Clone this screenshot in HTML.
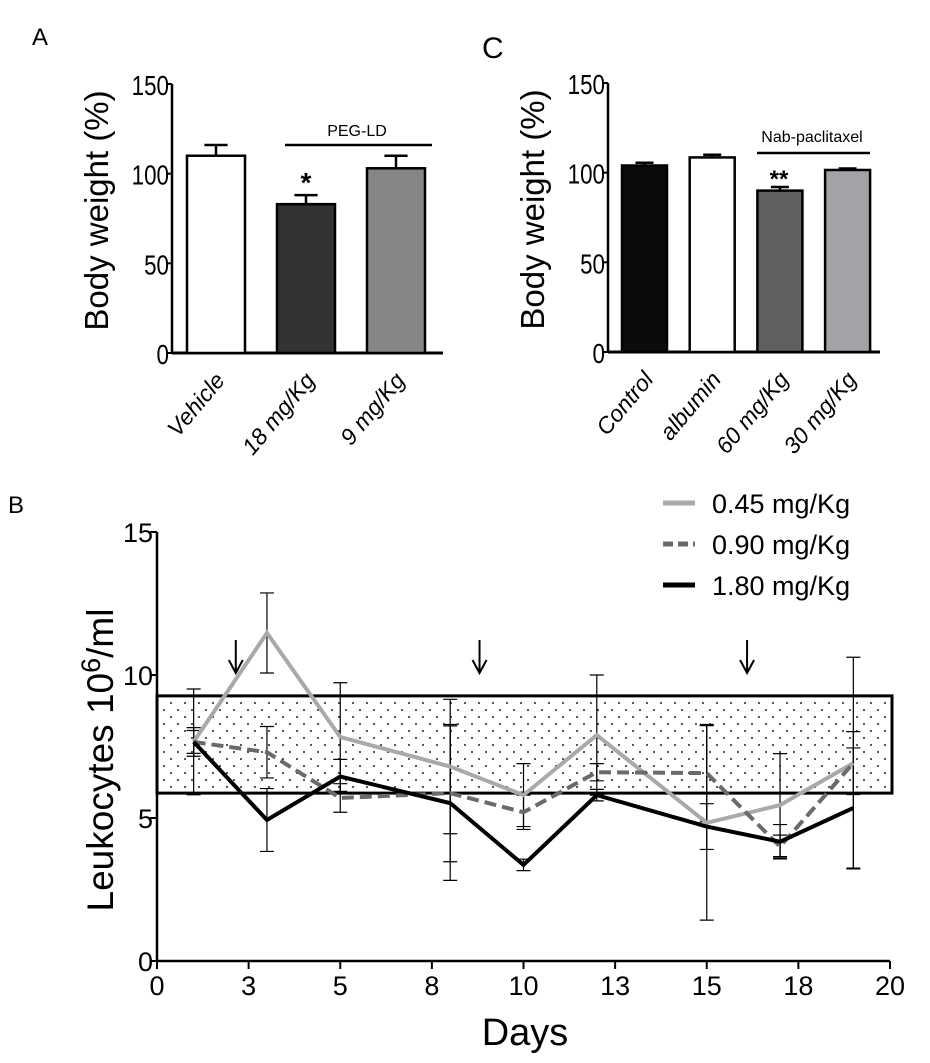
<!DOCTYPE html>
<html><head><meta charset="utf-8"><style>
body{margin:0;background:#fff}
svg{display:block;font-family:"Liberation Sans",sans-serif}
</style></head><body>
<svg id="fig" width="930" height="1063" viewBox="0 0 930 1063">
<text x="32" y="45" font-size="24">A</text>
<text x="482" y="58" font-size="30">C</text>
<text x="8" y="513" font-size="24">B</text>
<g id="pa"></g>
<g id="pc"></g>
<g id="pb"></g>
</svg>
<script>
const aCats=["Vehicle","18 mg/Kg","9 mg/Kg"];
const aVals=[110,83,103];
const aErr=[6,5,7];
const aFill=["#fff","#333","#868686"];
const cCats=["Control","albumin","60 mg/Kg","30 mg/Kg"];
const cVals=[104,108.5,90,101.5];
const cErr=[1.5,1.5,2,0.8];
const cFill=["#0b0b0b","#fff","#606060","#a2a3a6"];
const barTicks=[0,50,100,150];
const days=[1,3,5,8,10,12,15,17,19];
const s045=[7.66,11.47,7.83,6.8,5.8,7.9,4.83,5.45,6.92];
const e045=[1.85,1.4,1.9,2.35,1.1,2.1,3.4,1.8,3.7];
const s090=[7.66,7.3,5.7,5.87,5.2,6.6,6.57,4.0,6.92];
const e090=[0.5,0.9,0.5,2.4,0.6,0.3,1.7,0.4,1.1];
const s180=[7.66,4.93,6.45,5.52,3.36,5.8,4.7,4.17,5.35];
const e180=[0.4,1.1,0.6,2.7,0.2,0.2,0.8,0.6,2.1];
const bxTicks=[0,2.5,5,7.5,10,12.5,15,17.5,20];
const bxLabels=["0","3","5","8","10","13","15","18","20"];
const byTicks=[0,5,10,15];
const arrowDays=[2.15,8.8,16.1];
const band=[5.87,9.27];
const NS="http://www.w3.org/2000/svg";
function el(p,t,a){const e=document.createElementNS(NS,t);for(const k in a)e.setAttribute(k,a[k]);p.appendChild(e);return e;}

function barPanel(g,cats,vals,errs,fills,o){
  const y=v=>o.y0-v*(o.y0-o.y150)/150;
  let e=el(g,"line",{x1:o.ax,y1:o.y150,x2:o.ax,y2:o.y0+1,stroke:"#000","stroke-width":2.5});
  
  
  e=el(g,"line",{x1:o.ax,y1:o.y0,x2:o.axEnd,y2:o.y0,stroke:"#000","stroke-width":3});
  
  
  barTicks.forEach(t=>{
    el(g,"line",{x1:o.ax-6,x2:o.ax,y1:y(t),y2:y(t),stroke:"#000","stroke-width":2});
    const tx=el(g,"text",{x:o.ax-3,y:y(t)+11,"font-size":28,"text-anchor":"end",transform:`translate(${(o.ax-3)*0.2},0) scale(0.8,1)`});tx.textContent=t;
    
    
  });
  cats.forEach((c,i)=>{
    const x=o.x0+i*o.step, w=o.bw, cx=x+w/2;
    el(g,"line",{x1:cx,x2:cx,y1:y(vals[i]),y2:y(vals[i]+errs[i]),stroke:"#000","stroke-width":2.5});
    el(g,"line",{x1:cx-w*0.2,x2:cx+w*0.2,y1:y(vals[i]+errs[i]),y2:y(vals[i]+errs[i]),stroke:"#000","stroke-width":2.5});
    const r=el(g,"rect",{x:x,y:y(vals[i]),width:w,height:o.y0-y(vals[i]),fill:fills[i],stroke:"#000","stroke-width":2.5});
    
    
    const t=el(g,"text",{x:cx+10,y:o.y0+28,"font-size":23,"font-style":"italic","text-anchor":"end",transform:`rotate(-50 ${cx+10} ${o.y0+28})`});t.textContent=c;
    
    
  });
  const tt=el(g,"text",{x:0,y:0,"font-size":33,"text-anchor":"middle",transform:`translate(${o.ax-64},${(o.y0+o.y150)/2-8}) rotate(-90)`});tt.textContent="Body weight (%)";
  
  
}
const pa=document.getElementById("pa");
barPanel(pa,aCats,aVals,aErr,aFill,{ax:172,y0:353,y150:84,axEnd:443,x0:187,step:90,bw:58});
el(pa,"line",{x1:285,x2:432,y1:145,y2:145,stroke:"#000","stroke-width":2.5});
let t=el(pa,"text",{x:357,y:136,"font-size":16,"text-anchor":"middle"});t.textContent="PEG-LD";

t=el(pa,"text",{x:306,y:192,"font-size":28,"text-anchor":"middle","font-weight":"bold"});t.textContent="*";

const pc=document.getElementById("pc");
barPanel(pc,cCats,cVals,cErr,cFill,{ax:608,y0:352,y150:83,axEnd:880,x0:622,step:67.7,bw:45});
el(pc,"line",{x1:757,x2:870,y1:153,y2:153,stroke:"#000","stroke-width":2.5});
t=el(pc,"text",{x:812,y:142,"font-size":16,"text-anchor":"middle"});t.textContent="Nab-paclitaxel";

t=el(pc,"text",{x:779,y:187,"font-size":24,"text-anchor":"middle","font-weight":"bold"});t.textContent="**";


// Panel B
const pb=document.getElementById("pb");
const X=d=>157+d*(890-157)/20, Y=v=>961-v*28.6;
const dots=el(pb,"defs",{});
const pat=el(dots,"pattern",{id:"dots",width:14,height:14,patternUnits:"userSpaceOnUse"});
el(pat,"circle",{cx:3,cy:3,r:1,fill:"#222"});el(pat,"circle",{cx:10,cy:10,r:1,fill:"#222"});
let b=el(pb,"rect",{x:X(0),y:Y(band[1]),width:X(20)-X(0)+2,height:Y(band[0])-Y(band[1]),fill:"url(#dots)",stroke:"#000","stroke-width":3});

let ax=el(pb,"line",{x1:X(0),x2:X(0),y1:Y(15),y2:Y(0)+1,stroke:"#000","stroke-width":2.5});

ax=el(pb,"line",{x1:X(0),x2:X(20),y1:Y(0),y2:Y(0),stroke:"#000","stroke-width":2.5});

byTicks.forEach(v=>{el(pb,"line",{x1:X(0)-7,x2:X(0),y1:Y(v),y2:Y(v),stroke:"#000","stroke-width":2});
  const tx=el(pb,"text",{x:X(0)-4,y:Y(v)+10,"font-size":27,"text-anchor":"end"});tx.textContent=v;
  });
bxTicks.forEach((d,i)=>{el(pb,"line",{x1:X(d),x2:X(d),y1:Y(0),y2:Y(0)+8,stroke:"#000","stroke-width":2});
  const tx=el(pb,"text",{x:X(d),y:Y(0)+34,"font-size":27,"text-anchor":"middle"});tx.textContent=bxLabels[i];
  });
t=el(pb,"text",{x:525,y:1045,"font-size":38,"text-anchor":"middle"});t.textContent="Days";

t=el(pb,"text",{x:0,y:0,"font-size":37,"text-anchor":"middle",transform:"translate(113,760) rotate(-90)"});
t.innerHTML='Leukocytes 10<tspan dy="-13" font-size="27">6</tspan><tspan dy="13">/ml</tspan>';

arrowDays.forEach(d=>{const a=el(pb,"path",{d:`M${X(d)} 640 V673 M${X(d)-7} 660 L${X(d)} 673 L${X(d)+7} 660`,stroke:"#000","stroke-width":2,fill:"none"});
  });
const series=[[s045,e045,"#a9a9a9",""],[s090,e090,"#6a6a6a","12 6"],[s180,e180,"#000",""]];
const snames=["series-0-45","series-0-90","series-1-80"];
series.forEach(([s,e],k)=>{days.forEach((d,i)=>{const x=X(d);
  el(pb,"path",{d:`M${x} ${Y(s[i]+e[i])} V${Y(s[i]-e[i])} M${x-7} ${Y(s[i]+e[i])} h14 M${x-7} ${Y(s[i]-e[i])} h14`,stroke:"#000","stroke-width":1.2,fill:"none"});});});
series.forEach(([s,e,c,da],k)=>{const p=el(pb,"polyline",{points:days.map((d,i)=>X(d)+","+Y(s[i])).join(" "),fill:"none",stroke:c,"stroke-width":4,"stroke-dasharray":da});
  });
const legs=["0.45 mg/Kg","0.90 mg/Kg","1.80 mg/Kg"];
series.forEach(([s,e,c,da],k)=>{const yy=503+k*41;
  el(pb,"line",{x1:663,x2:695,y1:yy,y2:yy,stroke:c,"stroke-width":5,"stroke-dasharray":da?"10 5":""});
  const tx=el(pb,"text",{x:712,y:yy+10,"font-size":27});tx.textContent=legs[k];
  });
</script>
</body></html>
